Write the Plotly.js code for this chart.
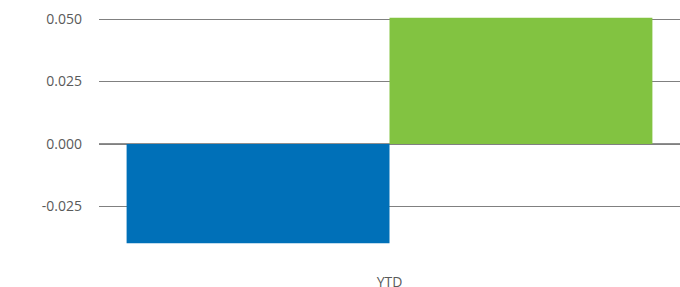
<!DOCTYPE html>
<html>
<head>
<meta charset="utf-8">
<script src="https://cdn.plot.ly/plotly-3.0.1.min.js"></script>
<style>html,body{margin:0;padding:0;background:#fff;}#chart{width:680px;height:287px;}</style>
</head>
<body>
<div id="chart"></div>
<script>
const categories = ["YTD"];
const seriesA = [-0.0397];
const seriesB = [0.0505];
const yTickVals = [-0.025, 0.0, 0.025, 0.05];
const yTickText = ["-0.025", "0.000", "0.025", "0.050"];
const darkGridVals = [-0.025, 0.0];

const traces = [
  {type: "bar", x: categories, y: seriesA, marker: {color: "#0070B8"}, hoverinfo: "none", name: "A"},
  {type: "bar", x: categories, y: seriesB, marker: {color: "#82C341"}, hoverinfo: "none", name: "B"}
];

const layout = {
  width: 680, height: 287,
  margin: {l: 99, r: 0, t: 0, b: 22},
  paper_bgcolor: "#fff", plot_bgcolor: "#fff",
  showlegend: false,
  barmode: "group",
  bargap: 0.095,
  bargroupgap: 0,
  font: {family: "Open Sans", size: 14, color: "#5a5a5a"},
  xaxis: {
    showgrid: false, zeroline: false, showline: false, ticks: "",
    tickfont: {family: "Open Sans", size: 14, color: "#5a5a5a"},
    ticklabelstandoff: 7
  },
  yaxis: {
    range: [-0.0484, 0.0576],
    tickvals: yTickVals, ticktext: yTickText,
    showgrid: true, gridcolor: "#808080", gridwidth: 1,
    zeroline: false, showline: false, ticks: "",
    ticklabelstandoff: 16,
    tickfont: {family: "Open Sans", size: 14, color: "#5a5a5a"}
  },
  shapes: darkGridVals.map(v => ({
    type: "line", xref: "paper", x0: 0, x1: 1, yref: "y", y0: v, y1: v,
    line: {color: "#1e1e1e", width: 1}, layer: "below"
  }))
};

Plotly.newPlot("chart", traces, layout, {staticPlot: true, displayModeBar: false});
</script>
</body>
</html>
